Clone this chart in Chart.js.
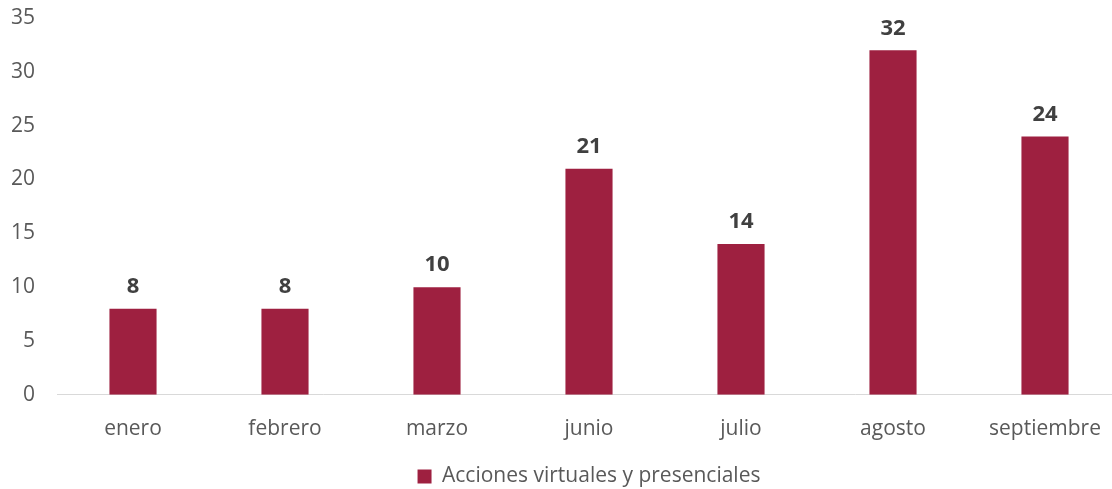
<!DOCTYPE html>
<html>
<head>
<meta charset="utf-8">
<script src="https://cdn.jsdelivr.net/npm/chart.js@4.4.0/dist/chart.umd.min.js"></script>
<style>
  html, body { margin: 0; padding: 0; background: #fff; }
  #wrap { width: 1112px; height: 489px; overflow: hidden; }
</style>
</head>
<body>
<div id="wrap"><canvas id="myChart" width="1121" height="489"></canvas></div>
<script>
const months = ["enero", "febrero", "marzo", "junio", "julio", "agosto", "septiembre"];
const acciones = [8, 8, 10, 21, 14, 32, 24];
const yTicks = [0, 5, 10, 15, 20, 25, 30, 35];

const barColor = "#9e2040";
const fontFamily = "'Open Sans', 'Liberation Sans', sans-serif";

// value labels above each bar
const valueLabels = {
  id: "valueLabels",
  afterDatasetsDraw(chart) {
    const ctx = chart.ctx;
    const meta = chart.getDatasetMeta(0);
    ctx.save();
    ctx.font = "bold 22px " + fontFamily;
    ctx.fillStyle = "#404040";
    ctx.textAlign = "center";
    ctx.textBaseline = "bottom";
    meta.data.forEach((bar, i) => {
      ctx.fillText(acciones[i], bar.x, bar.y - 11);
    });
    ctx.restore();
  },
};

const ctx = document.getElementById("myChart").getContext("2d");

new Chart(ctx, {
  type: "bar",
  data: {
    labels: months,
    datasets: [
      {
        label: "Acciones virtuales y presenciales",
        data: acciones,
        backgroundColor: barColor,
        barPercentage: 0.31,
        categoryPercentage: 1,
      },
    ],
  },
  options: {
    responsive: false,
    animation: false,
    layout: { padding: { top: 18, right: 0, left: 0, bottom: -8 } },
    plugins: {
      legend: {
        position: "bottom",
        fullSize: false,
        labels: {
          color: "#595959",
          boxWidth: 14,
          boxHeight: 14,
          padding: 2,
          font: { size: 21, family: fontFamily },
        },
      },
      tooltip: { enabled: false },
    },
    scales: {
      x: {
        afterFit(scale) {
          scale.paddingLeft = 0;
          scale.paddingRight = 0;
        },
        grid: { display: false, drawTicks: false },
        border: { display: true, color: "#d9d9d9", width: 1 },
        ticks: {
          color: "#595959",
          padding: 22,
          font: { size: 21, family: fontFamily },
        },
      },
      y: {
        min: 0,
        max: 35,
        afterBuildTicks(scale) {
          scale.ticks = yTicks.map((v) => ({ value: v }));
        },
        afterFit(scale) {
          scale.width = 57;
          scale.paddingTop = 0;
          scale.paddingBottom = 0;
        },
        grid: { display: false, drawTicks: false },
        border: { display: false },
        ticks: {
          color: "#595959",
          padding: 22,
          font: { size: 21, family: fontFamily },
        },
      },
    },
  },
  plugins: [valueLabels],
});
</script>
</body>
</html>
